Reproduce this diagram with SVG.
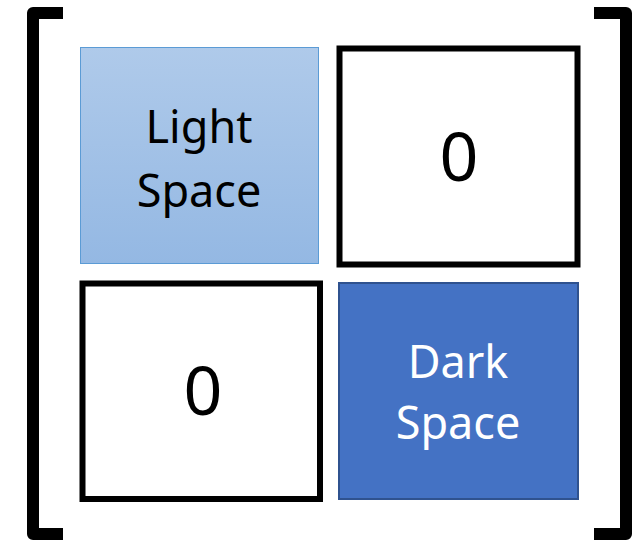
<svg xmlns="http://www.w3.org/2000/svg" width="641" height="541" viewBox="0 0 641 541">
<defs>
<linearGradient id="lg" x1="0" y1="0" x2="0" y2="1">
<stop offset="0" stop-color="#afcaea"/>
<stop offset="1" stop-color="#94b8e3"/>
</linearGradient>
<style>
.br{fill:none;stroke:#000;stroke-width:12;stroke-linejoin:round}
.zero{fill:#fff;stroke:#000;stroke-width:6}
.t{font-family:"Noto Sans","Open Sans",sans-serif;text-anchor:middle}
.lbl{font-size:45px}
.num{font-size:68px;fill:#000}
</style>
</defs>
<g id="brackets">
<path class="br" d="M63,13 H33 V534 H63"/>
<path class="br" d="M594,13 H626 V534 H594"/>
</g>
<g id="light">
<rect x="80.5" y="47.5" width="238" height="216" fill="url(#lg)" stroke="#5b9bd5" stroke-width="1"/>
<text class="t lbl" x="199" y="143" fill="#000">Light</text>
<text class="t lbl" x="199" y="207" fill="#000">Space</text>
</g>
<g id="zero-top">
<rect class="zero" x="339.5" y="48.5" width="238" height="216"/>
<text class="t num" x="459" y="181">0</text>
</g>
<g id="zero-bottom">
<rect class="zero" x="82.5" y="283.5" width="237.5" height="215.5"/>
<text class="t num" x="203" y="415">0</text>
</g>
<g id="dark">
<rect x="339" y="283" width="239" height="216" fill="#4472c4" stroke="#2f528f" stroke-width="2"/>
<text class="t lbl" x="458" y="378" fill="#fff">Dark</text>
<text class="t lbl" x="458" y="439" fill="#fff">Space</text>
</g>
<g id="connectors"/>
</svg>
